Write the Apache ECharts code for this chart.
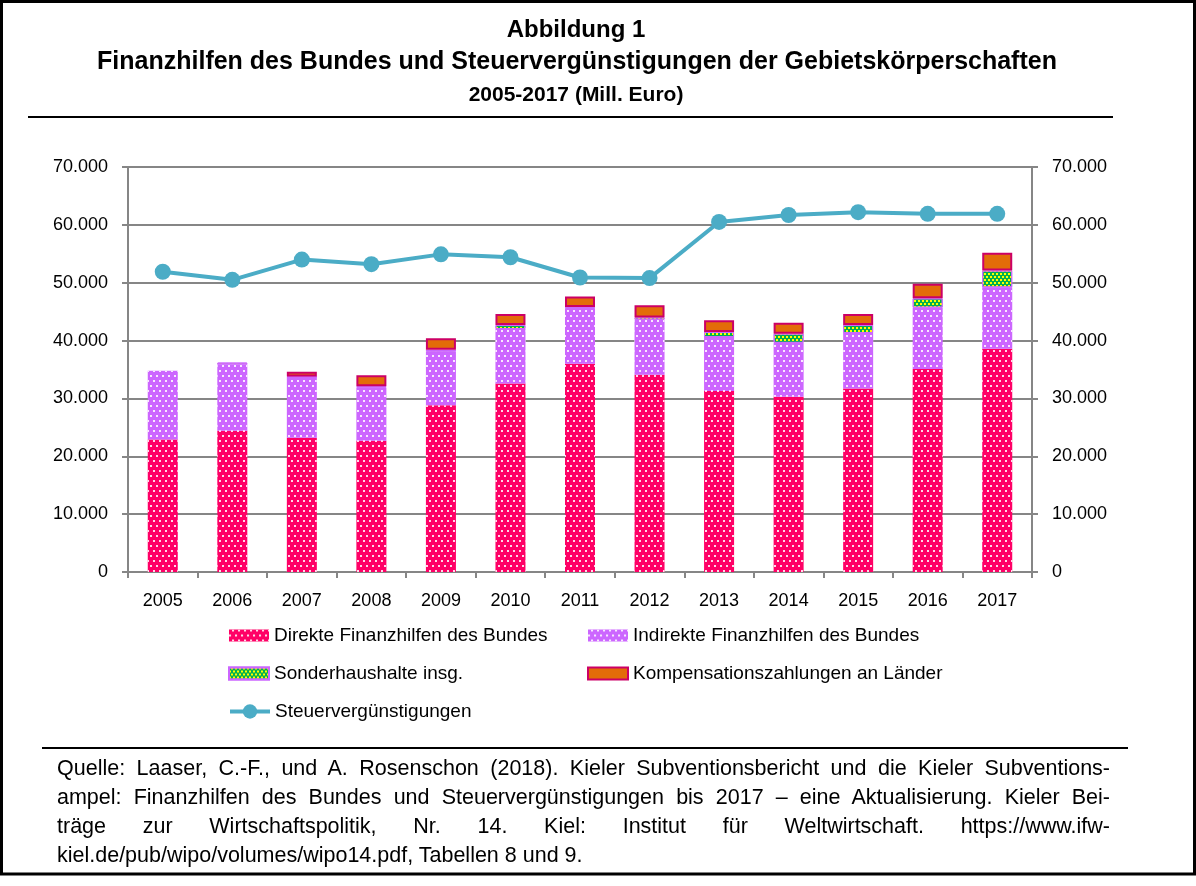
<!DOCTYPE html>
<html>
<head>
<meta charset="utf-8">
<script src="https://cdn.jsdelivr.net/npm/echarts@6/dist/echarts.min.js"></script>
<style>
	html, body { margin: 0; padding: 0; background: #fff; }
	#wrap { position: relative; width: 1196px; height: 886px; }
	#chart { position: absolute; left: 0; top: 0; width: 1196px; height: 886px; }
	#source {
		position: absolute; left: 57px; top: 754px; width: 1053px;
		font-family: "Liberation Sans", Arial, sans-serif; font-size: 21.5px; line-height: 29px; color: #000;
	}
	#source div { white-space: nowrap; text-align: justify; text-align-last: justify; }
	#source div.last { text-align: left; text-align-last: left; }
</style>
</head>
<body>
<div id="wrap">
	<div id="chart"></div>
	<div id="source">
		<div>Quelle: Laaser, C.-F., und A. Rosenschon (2018). Kieler Subventionsbericht und die Kieler Subventions-</div>
		<div>ampel: Finanzhilfen des Bundes und Steuervergünstigungen bis 2017 – eine Aktualisierung. Kieler Bei-</div>
		<div>träge zur Wirtschaftspolitik, Nr. 14. Kiel: Institut für Weltwirtschaft. https://www.ifw-</div>
		<div class="last">kiel.de/pub/wipo/volumes/wipo14.pdf, Tabellen 8 und 9.</div>
	</div>
</div>
<script>
// Werte in Mill. Euro
var years = ['2005', '2006', '2007', '2008', '2009', '2010', '2011', '2012', '2013', '2014', '2015', '2016', '2017'];
var direkte = [22900, 24400, 23200, 22700, 28800, 32600, 36000, 34100, 31300, 30300, 31700, 35100, 38600];
var indirekte = [11900, 11500, 10500, 9200, 9300, 9400, 9500, 9500, 9300, 9300, 9600, 10600, 10600];
var sonder = [0, 300, 100, 200, 300, 700, 300, 400, 900, 1600, 1400, 1600, 2900];
var kompensation = [0, 0, 800, 1900, 2000, 1900, 1800, 2100, 2000, 1900, 1900, 2500, 3100];
var steuer = [51900, 50500, 54000, 53200, 54900, 54400, 50900, 50800, 60500, 61700, 62200, 61900, 61900];
var yTicks = [0, 10000, 20000, 30000, 40000, 50000, 60000, 70000];

var FONT = '"Liberation Sans", Arial, sans-serif';
var GRID_COLOR = '#868686';

// zero segments are not drawn
function noZero(arr) {
	return arr.map(function(v) { return v ? v : null; });
}

function fmt(v) {
	return String(v).replace(/\B(?=(\d{3})+(?!\d))/g, '.');
}

var whiteDots = {
	symbol: 'rect',
	symbolSize: 1,
	color: 'rgba(255,255,255,0.85)',
	dashArrayX: [[2, 4], [0, 3, 2, 1]],
	dashArrayY: [2, 3]
};
var yellowDots = {
	symbol: 'rect',
	symbolSize: 1,
	color: '#ffff00',
	dashArrayX: [[2, 2], [0, 2, 2, 0]],
	dashArrayY: [2, 1]
};

function yAxis(pos) {
	return {
		type: 'value',
		position: pos,
		min: yTicks[0],
		max: yTicks[yTicks.length - 1],
		interval: yTicks[1] - yTicks[0],
		axisLine: { show: true, lineStyle: { color: GRID_COLOR, width: 2 } },
		axisTick: { show: true, length: 6, lineStyle: { color: GRID_COLOR, width: 2 } },
		axisLabel: {
			margin: 20,
			color: '#000',
			fontFamily: FONT,
			fontSize: 18,
			formatter: fmt
		},
		splitLine: { show: pos === 'left', lineStyle: { color: GRID_COLOR, width: 2 } }
	};
}

function legend(left, top, h, items) {
	return {
		orient: 'vertical',
		left: left,
		top: top,
		padding: 0,
		itemWidth: 40,
		itemHeight: h,
		itemGap: 19,
		selectedMode: false,
		textStyle: { fontFamily: FONT, fontSize: 19, color: '#000' },
		data: items
	};
}

var chart = echarts.init(document.getElementById('chart'), null, { renderer: 'canvas' });

var option = {
	animation: false,
	backgroundColor: '#fff',
	textStyle: { fontFamily: FONT },
	grid: { left: 128, right: 164, top: 167, bottom: 314 },
	xAxis: {
		type: 'category',
		data: years,
		axisLine: { lineStyle: { color: GRID_COLOR, width: 2 } },
		axisTick: { show: true, length: 6, lineStyle: { color: GRID_COLOR, width: 2 } },
		axisLabel: { margin: 20, color: '#000', fontFamily: FONT, fontSize: 18 }
	},
	yAxis: [yAxis('left'), yAxis('right')],
	legend: [
		legend(228, 626, 12, [
			{ name: 'Direkte Finanzhilfen des Bundes', icon: 'rect' },
			{ name: 'Sonderhaushalte insg.', icon: 'rect' }
		]),
		legend(587, 626, 12, [
			{ name: 'Indirekte Finanzhilfen des Bundes', icon: 'rect' },
			{ name: 'Kompensationszahlungen an Länder', icon: 'rect' }
		]),
		legend(228, 702, 18, [
			{ name: 'Steuervergünstigungen', lineStyle: { width: 4 } }
		])
	],
	series: [{
		name: 'Direkte Finanzhilfen des Bundes',
		type: 'bar',
		stack: 'sum',
		barWidth: 30,
		itemStyle: { color: '#ff0066', decal: whiteDots },
		data: noZero(direkte)
	}, {
		name: 'Indirekte Finanzhilfen des Bundes',
		type: 'bar',
		stack: 'sum',
		barWidth: 30,
		itemStyle: { color: '#cc66ff', decal: whiteDots },
		data: noZero(indirekte)
	}, {
		name: 'Sonderhaushalte insg.',
		type: 'bar',
		stack: 'sum',
		barWidth: 30,
		itemStyle: { color: '#00b050', borderColor: '#cc66ff', borderWidth: 1, decal: yellowDots },
		data: noZero(sonder)
	}, {
		name: 'Kompensationszahlungen an Länder',
		type: 'bar',
		stack: 'sum',
		barWidth: 30,
		itemStyle: { color: '#e36c09', borderColor: '#cc0066', borderWidth: 2 },
		data: noZero(kompensation)
	}, {
		name: 'Steuervergünstigungen',
		type: 'line',
		yAxisIndex: 1,
		z: 5,
		symbol: 'circle',
		symbolSize: 16,
		itemStyle: { color: '#4bacc6' },
		lineStyle: { color: '#4bacc6', width: 4 },
		data: steuer
	}],
	graphic: [{
		type: 'rect',
		shape: { x: 1.5, y: 1.5, width: 1193, height: 872.5 },
		style: { fill: 'none', stroke: '#000', lineWidth: 3 }
	}, {
		type: 'text',
		style: { text: 'Abbildung 1', x: 576, y: 30, textAlign: 'center', verticalAlign: 'middle', font: 'bold 24px ' + FONT, fill: '#000' }
	}, {
		type: 'text',
		style: { text: 'Finanzhilfen des Bundes und Steuervergünstigungen der Gebietskörperschaften', x: 577, y: 62, textAlign: 'center', verticalAlign: 'middle', font: 'bold 25px ' + FONT, fill: '#000' }
	}, {
		type: 'text',
		style: { text: '2005-2017 (Mill. Euro)', x: 576, y: 95, textAlign: 'center', verticalAlign: 'middle', font: 'bold 21px ' + FONT, fill: '#000' }
	}, {
		type: 'line',
		shape: { x1: 28, y1: 117, x2: 1113, y2: 117 },
		style: { stroke: '#000', lineWidth: 2 }
	}, {
		type: 'line',
		shape: { x1: 42, y1: 748, x2: 1128, y2: 748 },
		style: { stroke: '#000', lineWidth: 2 }
	}]
};

chart.setOption(option);
</script>
</body>
</html>
